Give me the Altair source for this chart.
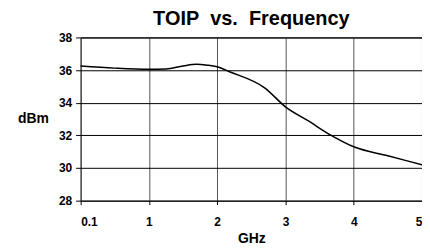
import altair as alt
import pandas as pd

tick_labels = ["0.1", "1", "2", "3", "4", "5"]
x_pos = [0, 0.5, 1.0, 1.25, 1.5, 1.7, 1.85, 2.0, 2.18, 2.7, 3.0, 3.33, 3.67, 4.0, 4.5, 5.0]
toip = [36.25, 36.12, 36.05, 36.07, 36.25, 36.35, 36.3, 36.2, 35.9, 34.9, 33.75, 32.9, 32.0, 31.3, 30.75, 30.2]

df = pd.DataFrame({"x": x_pos, "y": toip})

label_expr = "[" + ",".join("'%s'" % t for t in tick_labels) + "][round(datum.value)]"

chart = alt.Chart(df).mark_line(color="black", strokeWidth=1.5, interpolate="monotone").encode(
    x=alt.X("x:Q", scale=alt.Scale(domain=[0, 5], nice=False),
            axis=alt.Axis(values=[0, 1, 2, 3, 4, 5], labelExpr=label_expr, title="GHz",
                          grid=True, gridColor="#555", gridOpacity=1, domain=False,
                          tickColor="black", tickSize=4, labelPadding=12,
                          labelFont="Liberation Sans", labelFontWeight="bold", labelFontSize=12,
                          labelColor="black", titleFont="Liberation Sans", titleFontWeight="bold",
                          titleFontSize=14, titleColor="black", titlePadding=4)),
    y=alt.Y("y:Q", scale=alt.Scale(domain=[28, 38], nice=False),
            axis=alt.Axis(values=[28, 30, 32, 34, 36, 38], title="dBm", grid=True,
                          gridColor="black", gridOpacity=1, domain=False,
                          tickColor="black", tickSize=5, labelPadding=4,
                          labelFont="Liberation Sans", labelFontWeight="bold", labelFontSize=12,
                          labelColor="black", titleFont="Liberation Sans", titleFontWeight="bold",
                          titleFontSize=14, titleColor="black", titleAngle=0,
                          titleX=-48, titleY=81, titleAlign="center", titleBaseline="middle")),
).properties(
    width=343, height=164,
    title=alt.TitleParams("TOIP\u00a0\u00a0vs.\u00a0\u00a0Frequency", font="Liberation Sans", fontSize=20,
                          fontWeight="bold", color="black", anchor="middle", offset=2),
    autosize=alt.AutoSizeParams(type="none"),
    padding={"left": 73, "top": 29, "right": 0, "bottom": 48},
).configure_view(stroke="black", strokeWidth=1)

chart.save("out.html", embed_options={"renderer": "svg", "actions": False})
